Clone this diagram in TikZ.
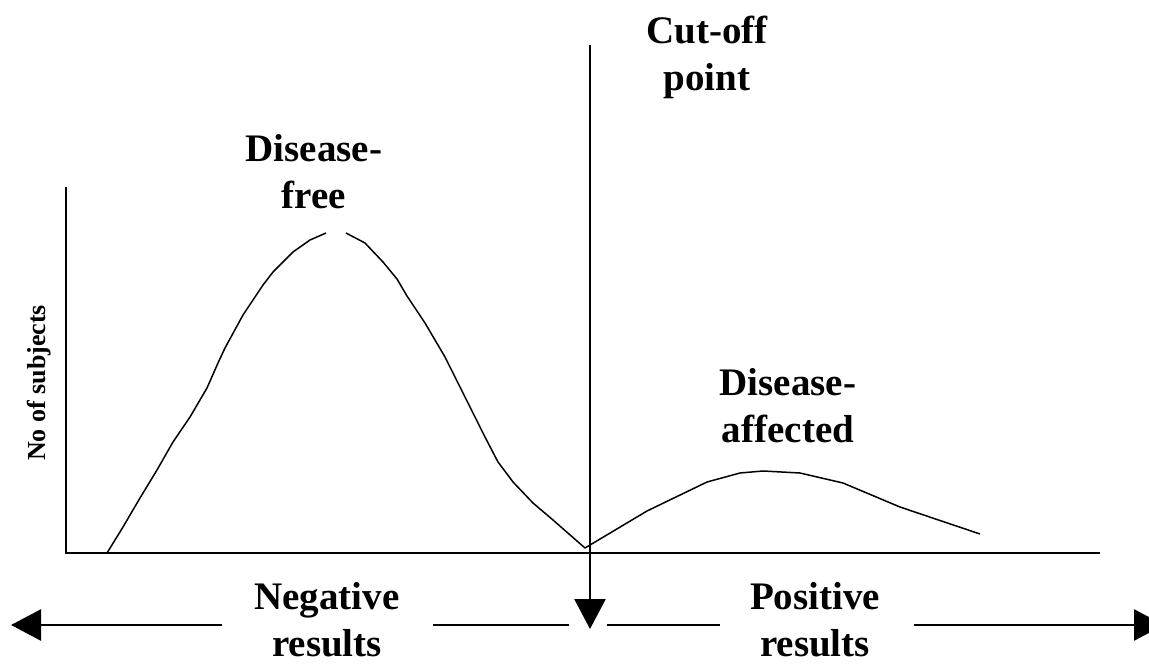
\documentclass[tikz,border=0pt]{standalone}
\usepackage{fontspec}
\setmainfont{Liberation Serif}
\usetikzlibrary{arrows.meta}
\begin{document}
\begin{tikzpicture}[x=1pt,y=-1pt,
  axisline/.style={line width=1.6pt},
  curveline/.style={line width=1.5pt, line join=round},
  boldline/.style={line width=2.6pt},
  headtip/.style={-{Triangle[length=30pt,width=31pt]}},
  biglabel/.style={font=\fontsize{39}{47}\selectfont\bfseries, align=center, inner sep=0pt, anchor=base},
  axislabel/.style={font=\fontsize{26}{30}\selectfont\bfseries, inner sep=0pt, rotate=90}]
\useasboundingbox (0,0) rectangle (1149,664);

% axes
\coordinate (ytop) at (66,187);
\coordinate (origin) at (66,553);
\coordinate (xend) at (1100,553);
\draw[axisline] (ytop) -- (origin) -- (xend);
\node[axislabel] (ylab) at (39,383) {No of subjects};

% disease-free distribution (rising side, then falling side)
\draw[curveline] (107,553) -- (123,527) -- (140,498) -- (157,470) -- (173,442)
  -- (190,417) -- (207,388) -- (218,363) -- (225,348) -- (243,315) -- (263,285)
  -- (273,272) -- (293,252) -- (310,240) -- (326,233);
\draw[curveline] (346,233) -- (365,243) -- (383,262) -- (397,279) -- (407,296)
  -- (425,323) -- (445,357) -- (457,381) -- (473,413) -- (485,437) -- (498,462)
  -- (513,482) -- (533,503) -- (553,520) -- (585,548) -- (590,545);

% disease-affected distribution
\draw[curveline] (590,545) -- (647,511) -- (707,482) -- (740,473) -- (763,471)
  -- (800,473) -- (843,483) -- (900,507) -- (980,534);

% cut-off line
\coordinate (cuttop) at (590,45);
\coordinate (cuttip) at (590,629);
\draw[boldline, headtip] (cuttop) -- (cuttip);

% result direction arrows
\coordinate (negA) at (222,625);
\coordinate (negTip) at (11,625);
\coordinate (negB) at (433,625);
\coordinate (negC) at (569,625);
\coordinate (posA) at (607,625);
\coordinate (posB) at (720,625);
\coordinate (posC) at (914,625);
\coordinate (posTip) at (1164,625);
\draw[boldline, headtip] (negA) -- (negTip);
\draw[boldline] (negB) -- (negC);
\draw[boldline] (posA) -- (posB);
\draw[boldline, headtip] (posC) -- (posTip);

% labels (anchored on the baseline of their last line)
\node[biglabel] (cutoff) at (707,90) {Cut-off\\point};
\node[biglabel] (free) at (314,208) {Disease-\\free};
\node[biglabel] (affected) at (788,442) {Disease-\\affected};
\node[biglabel] (neg) at (327,656) {Negative\\results};
\node[biglabel] (pos) at (815,656) {Positive\\results};
\end{tikzpicture}
\end{document}
